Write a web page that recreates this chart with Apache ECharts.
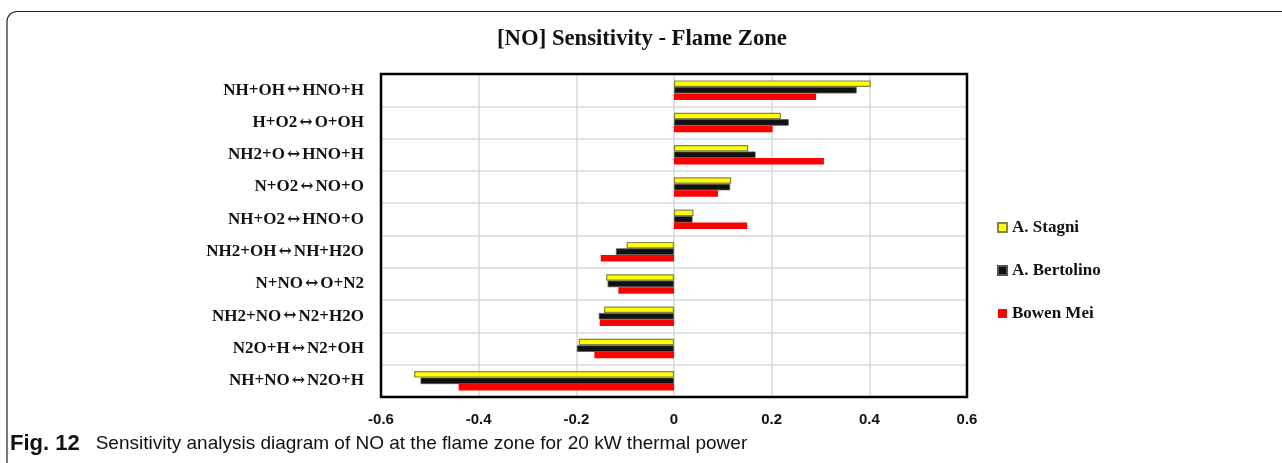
<!DOCTYPE html>
<html>
<head>
<meta charset="utf-8">
<script src="https://cdn.jsdelivr.net/npm/echarts@6/dist/echarts.min.js"></script>
<style>
  html, body { margin: 0; padding: 0; background: #fff; }
  #chart { width: 1282px; height: 463px; }
</style>
</head>
<body>
<div id="chart"></div>
<script>
// reactions, top to bottom
var reactions = [
    'NH+OH\u2194HNO+H',
    'H+O2\u2194O+OH',
    'NH2+O\u2194HNO+H',
    'N+O2\u2194NO+O',
    'NH+O2\u2194HNO+O',
    'NH2+OH\u2194NH+H2O',
    'N+NO\u2194O+N2',
    'NH2+NO\u2194N2+H2O',
    'N2O+H\u2194N2+OH',
    'NH+NO\u2194N2O+H'
];
var stagni    = [0.403, 0.219, 0.152, 0.117, 0.040, -0.097, -0.139, -0.143, -0.195, -0.532];
var bertolino = [0.374, 0.235, 0.167, 0.115, 0.038, -0.119, -0.136, -0.154, -0.199, -0.519];
var bowenMei  = [0.291, 0.202, 0.307, 0.090, 0.150, -0.150, -0.114, -0.152, -0.163, -0.441];
var xTicks = [-0.6, -0.4, -0.2, 0, 0.2, 0.4, 0.6];

var serif = "'Liberation Serif', 'Times New Roman', serif";
var sans = "'Liberation Sans', Arial, sans-serif";

var chart = echarts.init(document.getElementById('chart'));

var option = {
    animation: false,
    backgroundColor: '#fff',
    title: {
        text: '[NO] Sensitivity - Flame Zone',
        left: 637,
        textAlign: 'center',
        top: 23,
        textStyle: { fontFamily: serif, fontWeight: 'bold', fontSize: 22.7, color: '#111' }
    },
    legend: {
        orient: 'vertical',
        left: 997,
        top: 219,
        padding: 0,
        itemGap: 26,
        itemWidth: 9,
        itemHeight: 9,
        icon: 'rect',
        textStyle: { fontFamily: serif, fontWeight: 'bold', fontSize: 17, color: '#111' },
        data: ['A. Stagni', 'A. Bertolino', 'Bowen Mei']
    },
    grid: {
        left: 381,
        right: 315,
        top: 74,
        bottom: 66,
        show: true,
        borderWidth: 0,
        backgroundColor: '#fff'
    },
    xAxis: {
        type: 'value',
        min: xTicks[0],
        max: xTicks[xTicks.length - 1],
        interval: 0.2,
        axisLine: { show: false },
        axisTick: { show: false },
        splitLine: { show: true, lineStyle: { color: '#d9d9d9', width: 1.5 } },
        axisLabel: {
            margin: 15,
            fontFamily: sans,
            fontWeight: 'bold',
            fontSize: 15,
            color: '#111',
            formatter: function (v) { return Math.abs(v) < 1e-9 ? '0' : v.toFixed(1); }
        }
    },
    yAxis: {
        type: 'category',
        inverse: true,
        data: reactions,
        axisLine: { show: false, onZero: false },
        axisTick: { show: false },
        splitLine: { show: true, lineStyle: { color: '#d9d9d9', width: 1.5 } },
        axisLabel: {
            margin: 17,
            fontFamily: serif,
            fontWeight: 'bold',
            fontSize: 17,
            color: '#111',
            formatter: function (v) {
                var p = v.split('\u2194');
                return '{t|' + p[0] + '}{a|\u2194}{t|' + p[1] + '}';
            },
            rich: {
                t: { fontFamily: serif, fontWeight: 'bold', fontSize: 17, color: '#111' },
                a: { fontFamily: "'DejaVu Serif', serif", fontSize: 16, color: '#111', padding: [0, 2, 0, 2] }
            }
        }
    },
    series: [
        {
            name: 'A. Stagni',
            type: 'bar',
            data: stagni,
            barWidth: 6.5,
            barGap: '0%',
            itemStyle: { color: '#ffff00', borderColor: '#85854a', borderWidth: 1.2 }
        },
        {
            name: 'A. Bertolino',
            type: 'bar',
            data: bertolino,
            barWidth: 6.5,
            barGap: '0%',
            itemStyle: { color: '#111111', borderColor: '#555555', borderWidth: 0.8 }
        },
        {
            name: 'Bowen Mei',
            type: 'bar',
            data: bowenMei,
            barWidth: 6.5,
            barGap: '0%',
            itemStyle: { color: '#ff0000' }
        }
    ],
    graphic: [
        {
            type: 'rect',
            shape: { x: 7, y: 11.5, width: 1400, height: 600, r: [10, 0, 0, 0] },
            style: { fill: 'none', stroke: '#222', lineWidth: 1.2 },
            silent: true,
            z: -1
        },
        {
            // plot frame
            type: 'rect',
            shape: { x: 381, y: 74, width: 586, height: 323 },
            style: { fill: 'none', stroke: '#000', lineWidth: 2.5 },
            silent: true,
            z: 100
        },
        {
            type: 'text',
            left: 10,
            top: 433,
            style: {
                text: '{b|Fig. 12}{n|Sensitivity analysis diagram of NO at the flame zone for 20 kW thermal power}',
                rich: {
                    b: { fontFamily: sans, fontWeight: 'bold', fontSize: 22, fill: '#111', padding: [0, 16, 0, 0] },
                    n: { fontFamily: sans, fontSize: 19, fill: '#111' }
                }
            }
        }
    ]
};

chart.setOption(option);
window.onresize = chart.resize;
</script>
</body>
</html>
